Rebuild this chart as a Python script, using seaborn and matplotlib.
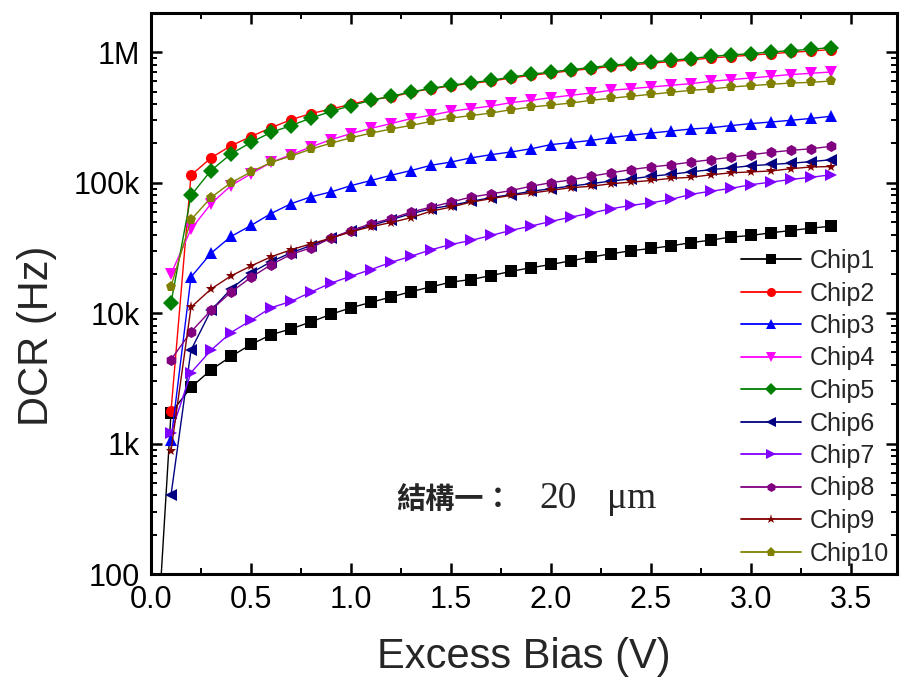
import matplotlib
matplotlib.use("Agg")
import matplotlib.pyplot as plt
import pandas as pd
import seaborn as sns
from matplotlib.ticker import (FixedLocator, FixedFormatter, MultipleLocator,
                               LogLocator, NullFormatter, FormatStrFormatter)

# ---------------- data ----------------
bias = [0.1, 0.2, 0.3, 0.4, 0.5, 0.6, 0.7, 0.8, 0.9, 1.0, 1.1, 1.2,
        1.3, 1.4, 1.5, 1.6, 1.7, 1.8, 1.9, 2.0, 2.1, 2.2, 2.3, 2.4,
        2.5, 2.6, 2.7, 2.8, 2.9, 3.0, 3.1, 3.2, 3.3, 3.4]

chip1_start_bias = 0.0
chip1_start_dcr = 5

chip1 = [1720, 2700, 3670, 4660, 5750, 6830, 7570, 8570, 9800, 11000, 12100, 13300,
         14600, 15900, 17300, 18100, 19400, 20900, 22300, 23600, 25200, 26900, 28500,
         30100, 31300, 32800, 34700, 36300, 38300, 39400, 41300, 43000, 44800, 46400]
chip2 = [1770, 114000, 155000, 192000, 226000, 264000, 304000, 339000, 367000, 399000,
         434000, 452000, 494000, 525000, 552000, 578000, 600000, 635000, 665000, 693000,
         722000, 748000, 778000, 800000, 824000, 848000, 873000, 905000, 927000, 950000,
         975000, 1000000, 1020000, 1050000]
chip3 = [1060, 18900, 28800, 38700, 47000, 58000, 69000, 78000, 85000, 95000, 104000,
         114000, 124000, 136000, 144000, 155000, 164000, 172000, 182000, 196000, 203000,
         211000, 222000, 231000, 240000, 249000, 258000, 264000, 274000, 284000, 292000,
         301000, 311000, 323000]
chip4 = [20000, 44000, 69000, 95000, 117000, 143000, 164000, 188000, 214000, 238000,
         261000, 284000, 310000, 329000, 353000, 370000, 387000, 411000, 428000, 449000,
         468000, 487000, 511000, 526000, 542000, 558000, 575000, 599000, 617000, 635000,
         655000, 675000, 690000, 706000]
chip5 = [12000, 80000, 124000, 166000, 204000, 243000, 274000, 313000, 352000, 390000,
         428000, 460000, 496000, 529000, 558000, 585000, 609000, 646000, 678000, 706000,
         736000, 764000, 795000, 819000, 843000, 868000, 895000, 931000, 953000, 977000,
         1005000, 1030000, 1054000, 1086000]
chip6 = [403, 5200, 10500, 15300, 20300, 24800, 29000, 33000, 37600, 42600, 47000,
         52000, 57800, 63100, 67000, 71900, 76800, 81000, 85800, 90000, 94200, 98200,
         103000, 107000, 112000, 116000, 121000, 126000, 130000, 135000, 138000, 141000,
         145000, 150000]
chip7 = [1200, 3500, 5200, 7100, 8800, 11000, 12300, 14500, 17000, 19200, 21600, 24500,
         27300, 30600, 33600, 36100, 39400, 43100, 46500, 50500, 54500, 58500, 63100,
         67000, 70200, 74400, 81500, 86000, 90500, 96600, 101000, 106000, 110000, 115000]
chip8 = [4400, 7200, 10500, 14500, 18800, 23500, 28200, 31700, 37600, 43000, 48500,
         53000, 59500, 65000, 71000, 77600, 82000, 87000, 94000, 100000, 105000, 112000,
         119000, 126000, 132000, 137000, 144000, 150000, 157000, 164000, 171000, 177000,
         182000, 190000]
chip9 = [880, 11100, 15300, 19300, 23000, 27000, 30600, 34000, 37600, 42000, 46000,
         49500, 53900, 60500, 65000, 71000, 75400, 80000, 83200, 87300, 91600, 93800,
         98200, 101000, 104000, 108000, 110000, 115000, 119000, 121000, 123000, 128000,
         132000, 133000]
chip10 = [16000, 52000, 77000, 100000, 121000, 143000, 160000, 181000, 201000, 221000,
          240000, 258000, 275000, 295000, 313000, 327000, 342000, 363000, 380000, 394000,
          408000, 428000, 444000, 460000, 476000, 493000, 511000, 523000, 542000, 555000,
          568000, 581000, 588000, 602000]

chip_names = ["Chip1", "Chip2", "Chip3", "Chip4", "Chip5",
              "Chip6", "Chip7", "Chip8", "Chip9", "Chip10"]
chip_values = [chip1, chip2, chip3, chip4, chip5, chip6, chip7, chip8, chip9, chip10]

y_ticks = [100, 1000, 10000, 100000, 1000000]
y_tick_labels = ["100", "1k", "10k", "100k", "1M"]

note_cjk = "結構一："
note_size = "20"
note_unit = "μm"

colors = ["#000000", "#FF0000", "#0000FF", "#FF00FF", "#008000",
          "#000080", "#8000FF", "#800080", "#800000", "#808000"]
markers = ["s", "o", "^", "v", "D", "<", ">", "h", "*", "p"]

# ---------------- long table ----------------
rows = []
rows.append({"bias": chip1_start_bias, "dcr": chip1_start_dcr, "chip": "Chip1"})
for name, vals in zip(chip_names, chip_values):
    for b, v in zip(bias, vals):
        rows.append({"bias": b, "dcr": v, "chip": name})
df = pd.DataFrame(rows)

# ---------------- plot ----------------
sns.set_theme(style="ticks")
plt.rcParams["font.family"] = ["Liberation Sans", "DejaVu Sans"]

fig = plt.figure(figsize=(9, 6.86), dpi=100)
ax = fig.add_axes([151 / 900, 112 / 686, (897 - 151) / 900, (574 - 13) / 686])

sns.lineplot(data=df, x="bias", y="dcr", hue="chip", style="chip",
             hue_order=chip_names, style_order=chip_names,
             palette=dict(zip(chip_names, colors)),
             markers=dict(zip(chip_names, markers)),
             dashes=False, estimator=None, sort=False,
             linewidth=1.0, markersize=8, markeredgewidth=0,
             ax=ax)

ax.set_yscale("log")
ax.set_xlim(0, 3.73)
ax.set_ylim(100, 2.0e6)

ax.xaxis.set_major_locator(MultipleLocator(0.5))
ax.xaxis.set_minor_locator(MultipleLocator(0.25))
ax.xaxis.set_major_formatter(FormatStrFormatter("%.1f"))
ax.yaxis.set_major_locator(FixedLocator(y_ticks))
ax.yaxis.set_major_formatter(FixedFormatter(y_tick_labels))
ax.yaxis.set_minor_locator(LogLocator(base=10, subs=[2, 3, 4, 5, 6, 7, 8, 9]))
ax.yaxis.set_minor_formatter(NullFormatter())

ax.tick_params(which="both", direction="in", top=True, right=True, colors="black")
ax.tick_params(which="major", length=8, width=1.8, labelsize=22, pad=8)
ax.tick_params(which="minor", length=4.5, width=1.4)
for s in ax.spines.values():
    s.set_linewidth(2.2)
    s.set_color("black")

ax.set_xlabel("Excess Bias (V)", fontsize=30, labelpad=16)
ax.set_ylabel("DCR (Hz)", fontsize=30, labelpad=12)
ax.yaxis.label.set_y(0.425)

sns.move_legend(ax, loc="upper left", bbox_to_anchor=(741 / 900, 1 - 249 / 686),
                bbox_transform=fig.transFigure, frameon=False, title=None,
                fontsize=18, handlelength=2.4, handletextpad=0.35,
                labelspacing=0.34, borderpad=0, borderaxespad=0)
leg = ax.get_legend()
for h in leg.legend_handles:
    h.set_markersize(6.5)
    h.set_linewidth(1.3)

base_y = 1 - 508 / 686
fig.text(396 / 900, base_y, note_cjk, fontsize=21, ha="left", va="baseline",
         fontweight="bold", family=["Noto Sans CJK TC", "DejaVu Sans"])
fig.text(558 / 900, base_y, note_size, fontsize=27, ha="center", va="baseline",
         family=["Liberation Serif", "DejaVu Serif"])
fig.text(632 / 900, base_y, note_unit, fontsize=27, ha="center", va="baseline",
         family=["Liberation Serif", "DejaVu Serif"])

fig.savefig("out.png", dpi=100)
